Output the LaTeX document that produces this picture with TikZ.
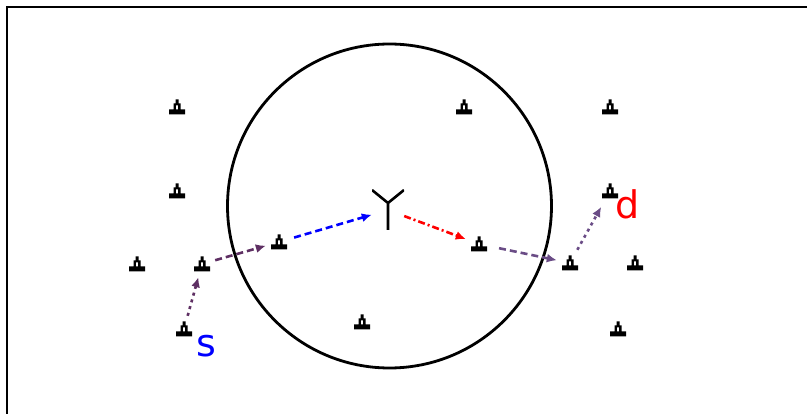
\documentclass[tikz,border=0pt]{standalone}
\usepackage{fontspec}
\setsansfont{DejaVu Sans}
\usetikzlibrary{arrows.meta}
\definecolor{lila}{HTML}{5E2F63}
\definecolor{lilah}{HTML}{6A4C86}
\definecolor{blau}{HTML}{0000FF}
\definecolor{rot}{HTML}{FF0000}
\tikzset{
  knoten/.style={minimum size=26pt,inner sep=0pt,path picture={
    \fill[black,even odd rule,shift={(path picture bounding box.center)}]
      (-1.5pt,7.5pt)--(1.5pt,7.5pt)--(1.5pt,3.5pt)--(3.5pt,3.5pt)--(3.5pt,-2.5pt)--(8pt,-2.5pt)
      --(8pt,-7.5pt)--(-8pt,-7.5pt)--(-8pt,-2.5pt)--(-3.5pt,-2.5pt)--(-3.5pt,3.5pt)--(-1.5pt,3.5pt)--cycle
      (-1.2pt,1.5pt)--(1.2pt,1.5pt)--(1.2pt,-2.5pt)--(-1.2pt,-2.5pt)--cycle;}},
  antenne/.style={minimum width=32pt,minimum height=40pt,inner sep=0pt,path picture={
    \draw[black,line width=2.6pt,shift={(path picture bounding box.center)}]
      (-16pt,20pt)--(0pt,7pt)--(16pt,20pt) (0pt,7pt)--(0pt,-20pt);}},
  tip/.style={-{Latex[length=10pt,width=9pt]}},
  hop/.style={tip,line width=2.6pt,dash pattern=on 7pt off 4pt},
  hopp/.style={tip,line width=2.6pt,dash pattern=on 3pt off 4pt},
  funk/.style={tip,line width=2.6pt,dash pattern=on 7pt off 3pt on 2pt off 3pt},
  rahmen/.style={black,line width=2pt},
  kreis/.style={black,line width=2.8pt},
  marke/.style={inner sep=0pt,font=\sffamily\fontsize{38}{38}\selectfont},
}
\begin{document}
\begin{tikzpicture}[x=1pt,y=-1pt]
  \useasboundingbox (0,0) rectangle (807,414);
  \fill[white] (0,0) rectangle (807,414);
  \draw[rahmen] (7,414)--(7,7)--(807,7);
  % Funkbereich
  \draw[kreis] (389.5,206) circle[radius=162];
  % Knoten
  \node[knoten] (k1) at (177,107) {};
  \node[knoten] (k2) at (464,107) {};
  \node[knoten] (k3) at (610,107) {};
  \node[knoten] (k4) at (177,191) {};
  \node[knoten] (ziel) at (610,191) {};
  \node[knoten] (k5) at (137,264) {};
  \node[knoten] (k6) at (202,264) {};
  \node[knoten] (k7) at (279,242) {};
  \node[knoten] (k8) at (479,244) {};
  \node[knoten] (k9) at (570,263) {};
  \node[knoten] (k10) at (635,263) {};
  \node[knoten] (quelle) at (184,329) {};
  \node[knoten] (k11) at (362,322) {};
  \node[knoten] (k12) at (618,329) {};
  \node[antenne] (ant) at (388,210) {};
  \node[marke,blau] (s) at (206,346) {s};
  \node[marke,rot] (d) at (628,204) {d};
  % Weg
  \draw[hopp,lila] (quelle)--(k6);
  \draw[hop,lila] (k6)--(k7);
  \draw[hop,blau,shorten <=2pt] (k7)--(ant);
  \draw[funk,rot] (ant)--(k8);
  \draw[hop,lilah,shorten <=7pt] (k8)--(k9);
  \draw[hopp,lilah,shorten >=3pt] (k9)--(ziel);
\end{tikzpicture}
\end{document}
